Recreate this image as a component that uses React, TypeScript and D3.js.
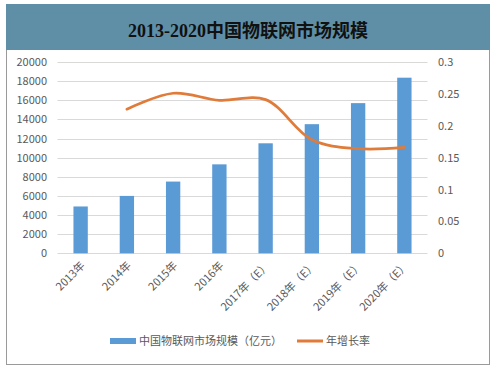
import React, { useEffect, useRef } from 'react';
import * as d3 from 'd3';

// data
const years = ['2013年', '2014年', '2015年', '2016年', '2017年（E）', '2018年（E）', '2019年（E）', '2020年（E）'];
const marketSize = [4896, 6000, 7500, 9300, 11500, 13500, 15700, 18360];
const growthYears = ['2014年', '2015年', '2016年', '2017年（E）', '2018年（E）', '2019年（E）', '2020年（E）'];
const growthRate = [0.226, 0.251, 0.24, 0.241, 0.178, 0.164, 0.166];
const leftTicks = [0, 2000, 4000, 6000, 8000, 10000, 12000, 14000, 16000, 18000, 20000];
const rightTicks = [0, 0.05, 0.1, 0.15, 0.2, 0.25, 0.3];

const W = 496, H = 368;
const plot = { left: 57.5, right: 427.5, top: 62, bottom: 253.3 };
const labelFont = '"Microsoft YaHei", "Noto Sans CJK SC", "Noto Sans", sans-serif';

export default function App() {
  const ref = useRef<SVGSVGElement>(null);

  useEffect(() => {
    const svg = d3.select(ref.current);
    svg.selectAll('*').remove();

    // frame + title band
    svg.append('rect').attr('x', 6.5).attr('y', 4.5).attr('width', 483).attr('height', 360)
      .attr('fill', '#fff').attr('stroke', '#9a9a9a');
    svg.append('rect').attr('x', 6).attr('y', 4).attr('width', 484).attr('height', 46).attr('fill', '#5f8fa6');
    svg.append('text').attr('x', 248).attr('y', 36.5).attr('text-anchor', 'middle')
      .attr('font-family', '"Liberation Serif", "Noto Sans CJK SC", serif').attr('font-weight', 'bold')
      .attr('font-size', 18).attr('fill', '#111').text('2013-2020中国物联网市场规模');

    const x = d3.scaleBand().domain(years).range([plot.left, plot.right]).paddingInner(0.69).paddingOuter(0.345);
    const yL = d3.scaleLinear().domain([0, 20000]).range([plot.bottom, plot.top]);
    const yR = d3.scaleLinear().domain([0, 0.3]).range([plot.bottom, plot.top]);

    // gridlines
    svg.append('g').selectAll('line').data(leftTicks).join('line')
      .attr('x1', plot.left).attr('x2', plot.right)
      .attr('y1', d => Math.round(yL(d)) + 0.5).attr('y2', d => Math.round(yL(d)) + 0.5)
      .attr('stroke', '#d9d9d9');

    // left axis labels
    svg.append('g').selectAll('text').data(leftTicks).join('text')
      .attr('x', 47).attr('y', d => yL(d) + 4).attr('text-anchor', 'end')
      .attr('font-family', labelFont).attr('font-size', 11).attr('fill', '#595959')
      .text(d => String(d));

    // right axis labels
    svg.append('g').selectAll('text').data(rightTicks).join('text')
      .attr('x', 438).attr('y', d => yR(d) + 4)
      .attr('font-family', labelFont).attr('font-size', 11).attr('fill', '#595959')
      .text(d => String(+d.toFixed(2)));

    // bars
    svg.append('g').selectAll('rect').data(marketSize).join('rect')
      .attr('x', (d, i) => x(years[i])!).attr('width', x.bandwidth())
      .attr('y', d => yL(d)).attr('height', d => plot.bottom - yL(d))
      .attr('fill', '#5b9bd5');

    // growth line
    const cx = (k: string) => x(k)! + x.bandwidth() / 2;
    const line = d3.line<number>()
      .x((d, i) => cx(growthYears[i]))
      .y(d => yR(d))
      .curve(d3.curveCatmullRom.alpha(0.5));
    svg.append('path').datum(growthRate).attr('d', line)
      .attr('fill', 'none').attr('stroke', '#e07b39').attr('stroke-width', 2.75).attr('stroke-linecap', 'round');

    // category labels, rotated
    svg.append('g').selectAll('text').data(years).join('text')
      .attr('transform', d => `translate(${cx(d) + 5},${plot.bottom + 13}) rotate(-45)`)
      .attr('text-anchor', 'end')
      .attr('font-family', labelFont).attr('font-size', 11).attr('fill', '#595959')
      .text(d => d);

    // legend
    const lg = svg.append('g').attr('font-family', labelFont).attr('font-size', 11).attr('fill', '#595959');
    lg.append('rect').attr('x', 110).attr('y', 338).attr('width', 26).attr('height', 6).attr('fill', '#5b9bd5');
    lg.append('text').attr('x', 139).attr('y', 345).text('中国物联网市场规模（亿元）');
    lg.append('line').attr('x1', 297).attr('x2', 323).attr('y1', 341).attr('y2', 341)
      .attr('stroke', '#e07b39').attr('stroke-width', 3);
    lg.append('text').attr('x', 326).attr('y', 345).text('年增长率');
  }, []);

  return (
    <svg ref={ref} width={W} height={H}
      style={{ position: 'absolute', left: 0, top: 0, background: '#fff' }} />
  );
}
